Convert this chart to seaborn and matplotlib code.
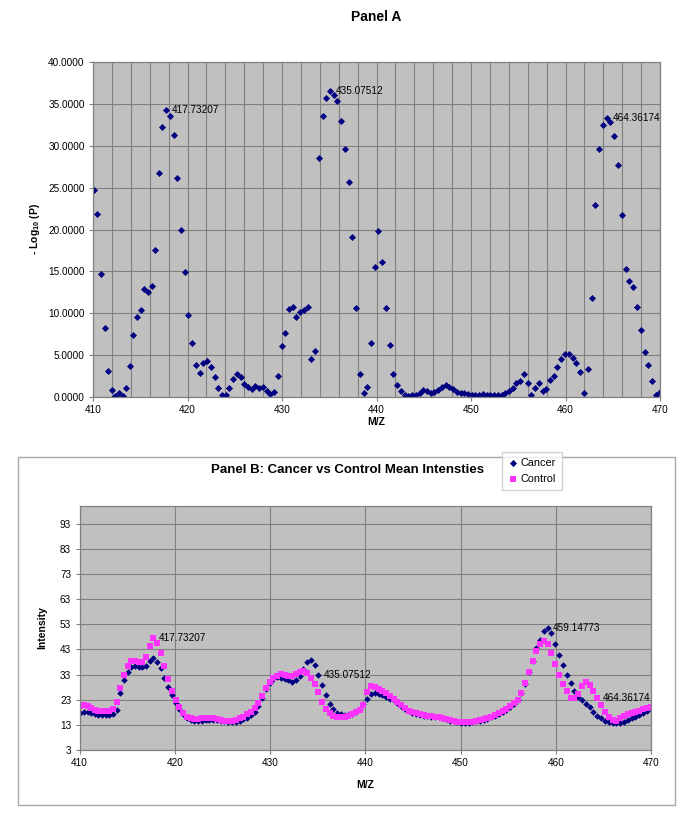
import numpy as np
import pandas as pd
import matplotlib
matplotlib.use("Agg")
import matplotlib.pyplot as plt
from matplotlib.patches import Rectangle
from matplotlib.ticker import FormatStrFormatter
import seaborn as sns

# m/z bins shared by both panels
mz = [
    410.07, 410.45, 410.84, 411.22, 411.60, 411.99, 412.37, 412.75, 413.13, 413.52,
    413.90, 414.28, 414.67, 415.05, 415.43, 415.82, 416.20, 416.58, 416.96, 417.35,
    417.73, 418.12, 418.52, 418.91, 419.31, 419.70, 420.10, 420.49, 420.88, 421.28,
    421.67, 422.07, 422.46, 422.86, 423.25, 423.64, 424.04, 424.43, 424.83, 425.22,
    425.61, 426.01, 426.40, 426.80, 427.19, 427.59, 427.98, 428.37, 428.77, 429.16,
    429.56, 429.95, 430.35, 430.74, 431.13, 431.53, 431.92, 432.32, 432.71, 433.11,
    433.50, 433.89, 434.29, 434.68, 435.08, 435.47, 435.86, 436.26, 436.65, 437.05,
    437.44, 437.84, 438.23, 438.63, 439.02, 439.42, 439.81, 440.21, 440.60, 440.99,
    441.39, 441.78, 442.18, 442.57, 442.97, 443.36, 443.76, 444.15, 444.55, 444.94,
    445.34, 445.73, 446.12, 446.52, 446.91, 447.31, 447.70, 448.10, 448.49, 448.89,
    449.28, 449.68, 450.07, 450.47, 450.86, 451.25, 451.65, 452.04, 452.44, 452.83,
    453.23, 453.62, 454.02, 454.41, 454.81, 455.20, 455.60, 455.99, 456.38, 456.78,
    457.17, 457.57, 457.96, 458.36, 458.75, 459.15, 459.55, 459.95, 460.35, 460.75,
    461.15, 461.55, 461.96, 462.36, 462.76, 463.16, 463.56, 463.96, 464.36, 464.76,
    465.16, 465.56, 465.96, 466.36, 466.77, 467.17, 467.57, 467.97, 468.37, 468.77,
    469.17, 469.57, 469.97,
]

# Panel A: -log10(p)
neg_log_p = [
    24.7, 21.8, 14.7, 8.2, 3.1, 0.8, 0.1, 0.5, 0.1, 1.1,
    3.7, 7.4, 9.5, 10.4, 12.9, 12.5, 13.2, 17.6, 26.7, 32.2,
    34.3, 33.5, 31.3, 26.1, 19.9, 14.9, 9.8, 6.4, 3.8, 2.9,
    4.1, 4.3, 3.6, 2.4, 1.1, 0.3, 0.3, 1.1, 2.1, 2.7,
    2.4, 1.6, 1.2, 0.9, 1.3, 1.1, 1.2, 0.7, 0.4, 0.6,
    2.5, 6.1, 7.6, 10.5, 10.8, 9.5, 10.1, 10.4, 10.8, 4.5,
    5.5, 28.5, 33.5, 35.7, 36.5, 36.1, 35.3, 32.9, 29.6, 25.7,
    19.1, 10.6, 2.8, 0.5, 1.2, 6.4, 15.5, 19.8, 16.1, 10.6,
    6.2, 2.8, 1.4, 0.7, 0.3, 0.1, 0.2, 0.3, 0.5, 0.8,
    0.7, 0.5, 0.6, 0.8, 1.2, 1.4, 1.2, 0.9, 0.6, 0.5,
    0.5, 0.4, 0.3, 0.2, 0.3, 0.4, 0.3, 0.2, 0.2, 0.2,
    0.3, 0.5, 0.7, 1.1, 1.7, 1.9, 2.8, 1.7, 0.2, 1.1,
    1.7, 0.7, 0.9, 2.0, 2.5, 3.6, 4.5, 5.1, 5.1, 4.7,
    4.1, 3.0, 0.5, 3.3, 11.8, 22.9, 29.6, 32.5, 33.3, 32.8,
    31.2, 27.7, 21.7, 15.3, 13.9, 13.1, 10.8, 8.0, 5.4, 3.8,
    1.9, 0.3, 0.6,
]

# Panel B: mean intensities
cancer = [
    17.8, 18.3, 18.0, 17.6, 17.2, 17.0, 16.9, 16.9, 17.0, 17.3,
    18.8, 25.5, 30.8, 34.0, 36.0, 36.4, 36.0, 35.8, 36.2, 38.2,
    39.5, 38.0, 35.5, 31.5, 28.0, 24.8, 21.8, 19.2, 17.2, 15.8,
    15.0, 14.6, 14.5, 14.7, 14.9, 15.0, 14.9, 14.8, 14.6, 14.4,
    14.3, 14.2, 14.3, 14.6, 15.2, 15.9, 16.9, 18.2, 20.6, 23.8,
    27.3, 29.6, 31.1, 32.0, 31.7, 31.3, 30.7, 30.2, 30.7, 32.4,
    35.4, 38.0, 38.7, 36.7, 33.0, 28.7, 24.7, 21.4, 19.4, 17.8,
    17.4, 17.1, 17.1, 17.4, 18.3, 19.4, 21.4, 23.1, 25.4, 25.8,
    25.4, 24.7, 24.1, 23.4, 22.7, 21.6, 20.6, 19.4, 18.4, 17.8,
    17.4, 17.0, 16.7, 16.5, 16.3, 16.1, 16.0, 15.7, 15.2, 14.7,
    14.4, 14.0, 13.9, 13.9, 13.9, 14.1, 14.4, 14.7, 15.1, 15.5,
    16.0, 16.6, 17.3, 18.0, 18.8, 19.9, 21.3, 23.0, 25.5, 29.4,
    34.0, 38.5, 43.5, 46.8, 50.3, 51.4, 49.4, 45.2, 40.7, 36.8,
    32.9, 29.6, 26.6, 24.2, 22.7, 21.4, 20.0, 18.3, 16.7, 15.6,
    14.7, 14.1, 13.8, 13.7, 13.8, 14.3, 15.0, 15.6, 16.3, 17.0,
    17.8, 18.7, 19.5,
]

control = [
    20.6, 20.8, 20.3, 19.6, 19.0, 18.6, 18.5, 18.5, 18.6, 19.2,
    22.0, 27.5, 33.0, 36.2, 38.3, 38.5, 38.0, 37.8, 40.0, 44.5,
    47.4, 45.5, 41.4, 36.5, 31.2, 26.6, 22.8, 19.9, 17.8, 16.3,
    15.7, 15.4, 15.4, 15.7, 15.9, 15.8, 15.7, 15.4, 15.0, 14.6,
    14.5, 14.6, 14.9, 15.6, 16.3, 17.2, 18.3, 19.8, 21.8, 24.5,
    27.5, 29.9, 31.5, 32.6, 33.2, 32.9, 32.4, 32.4, 33.2, 34.0,
    34.3, 33.6, 31.8, 29.3, 25.9, 22.2, 19.4, 17.6, 16.6, 16.1,
    16.1, 16.3, 16.7, 17.4, 18.1, 18.8, 21.0, 26.0, 28.3, 28.1,
    27.4, 26.4, 25.5, 24.6, 23.4, 22.1, 21.0, 19.7, 18.7, 18.1,
    17.7, 17.3, 17.0, 16.7, 16.5, 16.3, 16.2, 15.9, 15.4, 14.9,
    14.6, 14.2, 14.1, 14.1, 14.1, 14.3, 14.6, 14.9, 15.4, 15.8,
    16.3, 17.0, 17.8, 18.6, 19.4, 20.5, 21.8, 23.0, 25.8, 29.8,
    34.1, 38.3, 42.4, 45.0, 46.4, 45.2, 41.4, 37.2, 33.0, 29.4,
    26.3, 23.8, 23.5, 25.2, 28.6, 30.1, 28.8, 26.3, 23.7, 21.0,
    18.3, 16.3, 15.0, 14.7, 15.6, 16.6, 17.3, 17.8, 18.3, 18.7,
    19.1, 19.6, 19.9,
]

# peak labels: text, series name, index into mz
labels_a = [("417.73207", 20), ("435.07512", 64), ("464.36174", 138)]
labels_b = [("417.73207", "control", 20), ("435.07512", "cancer", 64),
            ("459.14773", "cancer", 125), ("464.36174", "control", 138)]

plt.rcParams["font.family"] = ["Liberation Sans", "DejaVu Sans"]
plt.rcParams["mathtext.fontset"] = "custom"
plt.rcParams["mathtext.rm"] = "Liberation Sans"
plt.rcParams["mathtext.bf"] = "Liberation Sans:bold"

NAVY = "#000080"
MAGENTA = "#FF33FF"
PLOT_BG = "#C0C0C0"
GRID = "#808080"

df_a = pd.DataFrame({"mz": mz, "neglogp": neg_log_p})
df_b = pd.DataFrame({"mz": mz, "cancer": cancer, "control": control})

fig = plt.figure(figsize=(6.85, 8.22), dpi=100)


def style_axes(ax):
    ax.set_facecolor(PLOT_BG)
    ax.set_axisbelow(True)
    ax.grid(which="both", color=GRID, linewidth=0.8)
    for sp in ax.spines.values():
        sp.set_color(GRID)
        sp.set_linewidth(0.9)
    ax.tick_params(which="major", labelsize=7.2, length=3, color=GRID, pad=3)
    ax.tick_params(which="minor", length=0)
    ax.set_xlabel("")
    ax.set_ylabel("")


# ---- Panel A ----
ax_a = fig.add_axes([0.1358, 0.517, 0.8277, 0.4076])
sns.scatterplot(data=df_a, x="mz", y="neglogp", ax=ax_a, marker="D", s=13,
                color=NAVY, linewidth=0, legend=False)
ax_a.set_xlim(410, 470)
ax_a.set_ylim(0, 40)
ax_a.set_xticks(np.arange(410, 471, 10))
ax_a.set_xticks(np.arange(410, 471, 2), minor=True)
ax_a.set_yticks(np.arange(0, 41, 5))
ax_a.yaxis.set_major_formatter(FormatStrFormatter("%.4f"))
style_axes(ax_a)
for txt, i in labels_a:
    ax_a.annotate(txt, xy=(mz[i], neg_log_p[i]), xytext=(4, 0),
                  textcoords="offset points", va="center", ha="left", fontsize=7.2)

fig.text(0.549, 0.979, "Panel A", ha="center", va="center", fontsize=10, fontweight="bold")
fig.text(0.051, 0.721, r"- Log$_{\mathbf{10}}$ (P)", rotation=90, ha="center", va="center",
         fontsize=7.5, fontweight="bold")
fig.text(0.549, 0.487, "M/Z", ha="center", va="center", fontsize=7.5, fontweight="bold")

# ---- Panel B ----
fig.patches.append(Rectangle((0.0263, 0.0207), 0.9587, 0.4233, transform=fig.transFigure,
                             fill=False, edgecolor="#A8A8A8", linewidth=1))

ax_b = fig.add_axes([0.1161, 0.0876, 0.8343, 0.2968])
sns.scatterplot(data=df_b, x="mz", y="cancer", ax=ax_b, marker="D", s=11,
                color=NAVY, linewidth=0, label="Cancer")
sns.scatterplot(data=df_b, x="mz", y="control", ax=ax_b, marker="s", s=14,
                color=MAGENTA, linewidth=0, label="Control")
ax_b.set_xlim(410, 470)
ax_b.set_ylim(3, 100)
ax_b.set_xticks(np.arange(410, 471, 10))
ax_b.set_yticks(np.arange(3, 94, 10))
style_axes(ax_b)
series_b = {"cancer": cancer, "control": control}
for txt, name, i in labels_b:
    ax_b.annotate(txt, xy=(mz[i], series_b[name][i]), xytext=(4, 0),
                  textcoords="offset points", va="center", ha="left", fontsize=7.2)

handles, names = ax_b.get_legend_handles_labels()
ax_b.get_legend().remove()
fig.legend(handles, names, loc="center", bbox_to_anchor=(0.7766, 0.427),
           fontsize=7.8, frameon=True, fancybox=False, edgecolor="#C8C8C8",
           handletextpad=0.2, borderpad=0.5, labelspacing=0.6, handlelength=1.0,
           scatterpoints=1, markerscale=1.1)

fig.text(0.508, 0.428, "Panel B: Cancer vs Control Mean Intensties", ha="center",
         va="center", fontsize=9.5, fontweight="bold")
fig.text(0.061, 0.236, "Intensity", rotation=90, ha="center", va="center",
         fontsize=7.5, fontweight="bold")
fig.text(0.533, 0.045, "M/Z", ha="center", va="center", fontsize=7.5, fontweight="bold")

fig.savefig("out.png", dpi=100)
plt.close(fig)
